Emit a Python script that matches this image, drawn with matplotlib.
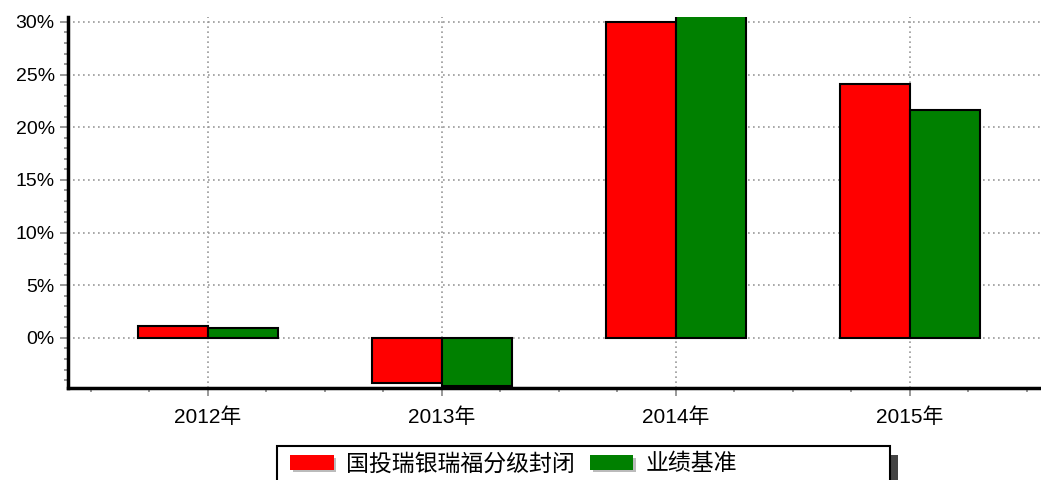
import numpy as np
import matplotlib
matplotlib.use("Agg")
import matplotlib.pyplot as plt
import matplotlib.patheffects as pe
from matplotlib.patches import Patch, Rectangle
from matplotlib.ticker import MultipleLocator, FuncFormatter

plt.rcParams['font.family'] = ['Liberation Sans', 'Noto Sans CJK SC', 'DejaVu Sans']

years = ['2012年', '2013年', '2014年', '2015年']
fund_name = '国投瑞银瑞福分级封闭'
bench_name = '业绩基准'
fund = [1.15, -4.3, 30.0, 24.1]
bench = [0.95, -4.6, 31.0, 21.65]

W, H = 1041, 480
fig = plt.figure(figsize=(W / 100, H / 100), dpi=100)
ax = fig.add_axes([68 / W, 1 - 388 / H, (W - 68) / W, (388 - 17) / H])

x = np.arange(len(years))
w = 0.3
ax.bar(x - w / 2, fund, w, color='#ff0000', edgecolor='black', linewidth=1.5, zorder=3)
ax.bar(x + w / 2, bench, w, color='#008000', edgecolor='black', linewidth=1.5, zorder=3)

ax.set_xlim(-0.598, 3.56)
ax.set_ylim(-4.75, 30.47)

ax.set_xticks(x)
ax.set_xticklabels(years, fontsize=15)
ax.xaxis.set_minor_locator(MultipleLocator(0.25))
ax.set_yticks(np.arange(0, 31, 5))
ax.yaxis.set_major_formatter(FuncFormatter(lambda v, p: '%d%%' % v))
ax.yaxis.set_minor_locator(MultipleLocator(1))
ax.tick_params(axis='y', labelsize=14)
ax.tick_params(which='both', direction='out', color='#888888', width=1.2)
ax.tick_params(which='major', length=6)
ax.tick_params(which='minor', length=3)
ax.tick_params(axis='x', pad=8)

for s in ['top', 'right']:
    ax.spines[s].set_visible(False)
for s in ['left', 'bottom']:
    ax.spines[s].set_linewidth(2.5)
    ax.spines[s].set_color('black')

ax.set_axisbelow(True)
ax.grid(True, which='major', linestyle=(0, (1, 2)), color='#999999', linewidth=1.2)

# legend box (runs off the bottom of the picture) with its shadow
bx0, bx1, by0 = 277, 890, 446
fig.patches.append(Rectangle(((bx0 + 8) / W, -0.1), (bx1 - bx0) / W, (1 - (by0 + 9) / H) + 0.1,
                             transform=fig.transFigure, facecolor='#444444', edgecolor='none', zorder=1))
fig.patches.append(Rectangle((bx0 / W, -0.1), (bx1 - bx0) / W, (1 - by0 / H) + 0.1,
                             transform=fig.transFigure, facecolor='white', edgecolor='black',
                             linewidth=1.5, zorder=2))

shadow = [pe.SimplePatchShadow(offset=(2, -2), shadow_rgbFace='#aaaaaa', alpha=0.8), pe.Normal()]
handles = [Patch(facecolor='#ff0000', edgecolor='none', path_effects=shadow),
           Patch(facecolor='#008000', edgecolor='none', path_effects=shadow)]
leg = fig.legend(handles, [fund_name, bench_name], ncol=2, loc='center left',
                 bbox_to_anchor=(290 / W, 1 - 464 / H),
                 prop={'family': ['Noto Sans CJK SC'], 'size': 16.5},
                 frameon=False, handlelength=1.9, handleheight=0.6, handletextpad=0.55,
                 columnspacing=0.65, borderpad=0, borderaxespad=0)
leg.set_zorder(3)

fig.savefig('out.png', dpi=100)
